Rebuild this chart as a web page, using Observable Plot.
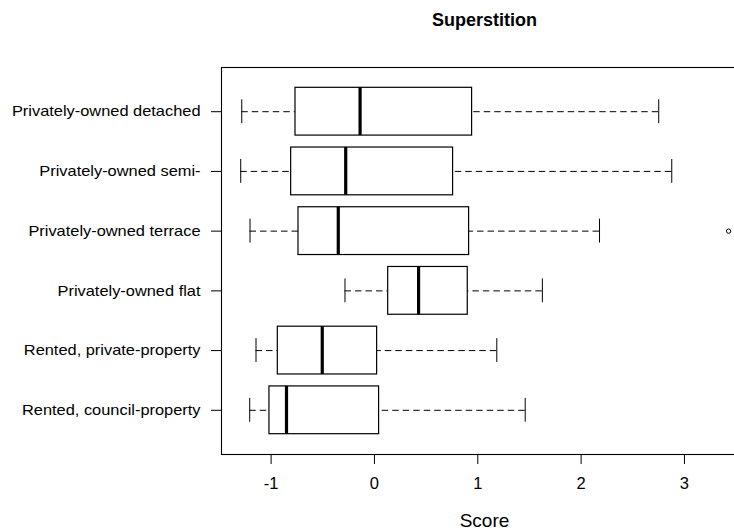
<!DOCTYPE html>
<html><head><meta charset="utf-8">
<script src="https://cdn.jsdelivr.net/npm/d3@7"></script>
<script src="https://cdn.jsdelivr.net/npm/@observablehq/plot@0.6"></script>
<style>
html,body{margin:0;padding:0;background:#fff;overflow:hidden;}
#chart{width:734px;height:532px;overflow:hidden;}
#chart svg{max-width:none !important;}
</style></head><body><div id="chart"></div>
<script>
const categories = ["Privately-owned detached","Privately-owned semi-","Privately-owned terrace","Privately-owned flat","Rented, private-property","Rented, council-property"];
const lowerWhisker = [-1.284,-1.294,-1.204,-0.285,-1.146,-1.207];
const q1Values     = [-0.764,-0.806,-0.735, 0.133,-0.935,-1.016];
const medianValues = [-0.139,-0.278,-0.350, 0.427,-0.505,-0.851];
const q3Values     = [ 0.945, 0.761, 0.916, 0.903, 0.026, 0.045];
const upperWhisker = [ 2.751, 2.877, 2.178, 1.625, 1.184, 1.459];
const outlierCategory = ["Privately-owned terrace"];
const outlierValue = [3.427];
const xTicks = [-1,0,1,2,3];
const title = "Superstition";
const xLabel = "Score";

const rows = categories.map((c,i)=>({cat:c,pos:i+1,lo:lowerWhisker[i],q1:q1Values[i],med:medianValues[i],q3:q3Values[i],hi:upperWhisker[i]}));
const outliers = outlierCategory.map((c,i)=>({pos:categories.indexOf(c)+1,v:outlierValue[i]}));
const half = 0.4, cap = 0.2;

const svg = Plot.plot({
  width: 747, height: 532,
  marginLeft: 221, marginRight: 0, marginTop: 67, marginBottom: 78,
  style: {fontFamily: "'Liberation Sans', Arial, Helvetica, sans-serif", fontSize: "14.5px", color: "black", background: "white", maxWidth: "none"},
  x: {domain: [-1.48, 3.61], axis: null},
  y: {domain: [0.26, 6.74], reverse: true, axis: null},
  marks: [
    Plot.frame({stroke: "black", strokeWidth: 1.1}),
    Plot.ruleY(rows, {y: "pos", x1: "lo", x2: "q1", stroke: "black", strokeWidth: 1, strokeDasharray: "6.5,4"}),
    Plot.ruleY(rows, {y: "pos", x1: "hi", x2: "q3", stroke: "black", strokeWidth: 1, strokeDasharray: "6.5,4"}),
    Plot.ruleX(rows, {x: "lo", y1: d => d.pos - cap, y2: d => d.pos + cap, stroke: "black", strokeWidth: 1}),
    Plot.ruleX(rows, {x: "hi", y1: d => d.pos - cap, y2: d => d.pos + cap, stroke: "black", strokeWidth: 1}),
    Plot.rect(rows, {x1: "q1", x2: "q3", y1: d => d.pos - half, y2: d => d.pos + half, fill: "white", stroke: "black", strokeWidth: 1.2}),
    Plot.ruleX(rows, {x: "med", y1: d => d.pos - half, y2: d => d.pos + half, stroke: "black", strokeWidth: 3.2}),
    Plot.dot(outliers, {x: "v", y: "pos", r: 2.2, stroke: "black", strokeWidth: 1, fill: "white"}),
    Plot.axisX({ticks: xTicks, tickSize: 10, tickPadding: 13, fontSize: 16.5, label: null, tickFormat: d => String(d)}),
    Plot.axisY({ticks: rows.map(d => d.pos), tickFormat: i => categories[i - 1], tickSize: 10, tickPadding: 11, fontSize: 14.5, label: null}),
    Plot.text([title], {frameAnchor: "top", lineAnchor: "middle", dy: -47, fontWeight: "bold", fontSize: 18, ariaLabel: "title", fill: "black"}),
    Plot.text([xLabel], {frameAnchor: "bottom", lineAnchor: "middle", dy: 66, fontSize: 19, ariaLabel: "xlabel", fill: "black"})
  ]
});
svg.style.maxWidth = "none";
document.getElementById("chart").appendChild(svg);
svg.querySelectorAll('g[aria-label="y-axis tick label"] text, g[aria-label="title"] text').forEach(t => {
  const L = t.getComputedTextLength();
  t.setAttribute("textLength", (L * 1.13).toFixed(1));
  t.setAttribute("lengthAdjust", "spacingAndGlyphs");
});
</script></body></html>
